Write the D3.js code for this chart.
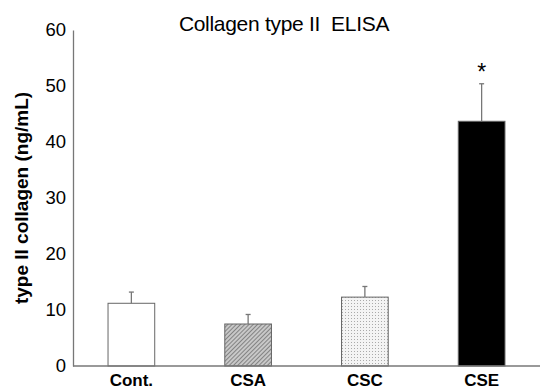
<!DOCTYPE html>
<html><head><meta charset="utf-8">
<script src="https://cdn.jsdelivr.net/npm/d3@7"></script>
<style>body{margin:0;background:#fff}text{font-family:"Liberation Sans",Arial,sans-serif}</style>
</head><body>
<svg id="c" width="540" height="391"></svg>
<script>
const categories = ["Cont.", "CSA", "CSC", "CSE"];
const values = [11.2, 7.5, 12.3, 43.7];
const errors = [2.0, 1.7, 1.9, 6.7];
const fills = ["white", "url(#hatch)", "url(#dots)", "#000"];
const yTicks = [0, 10, 20, 30, 40, 50, 60];
const significance = ["", "", "", "*"];

(function(){
const svg = d3.select("#c");
const defs = svg.append("defs");
const h = defs.append("pattern").attr("id","hatch").attr("patternUnits","userSpaceOnUse")
  .attr("width",3).attr("height",3).attr("patternTransform","rotate(45)");
h.append("rect").attr("width",3).attr("height",3).attr("fill","#c8c8c8");
h.append("line").attr("x1",0).attr("y1",0).attr("x2",0).attr("y2",3).attr("stroke","#555").attr("stroke-width",1.2);
const d = defs.append("pattern").attr("id","dots").attr("patternUnits","userSpaceOnUse")
  .attr("width",3).attr("height",3);
d.append("rect").attr("width",3).attr("height",3).attr("fill","#f4f4f4");
d.append("rect").attr("width",1).attr("height",1).attr("fill","#aaa");

const mL = 73, mR = 540, mT = 30, mB = 366;
const x = d3.scaleBand().domain(categories).range([mL, mR]).paddingInner(0.6).paddingOuter(0.3);
const y = d3.scaleLinear().domain([0, 60]).range([mB, mT]);

const ya = svg.append("g").attr("transform",`translate(${mL},0)`)
  .call(d3.axisLeft(y).tickValues(yTicks).tickSize(0).tickPadding(7));
ya.select(".domain").attr("stroke","#777").attr("stroke-width",1.3);
ya.selectAll("text").attr("font-size",18.5).attr("fill","#000").attr("font-family","Liberation Sans, Arial");

svg.append("g").selectAll("rect").data(categories).join("rect")
  .attr("x", c => x(c)).attr("width", x.bandwidth())
  .attr("y", (c,i) => y(values[i])).attr("height", (c,i) => y(0) - y(values[i]))
  .attr("fill", (c,i) => fills[i]).attr("stroke","#666").attr("stroke-width",1);

const eb = svg.append("g").attr("stroke","#777").attr("stroke-width",1.3);
categories.forEach((c,i) => {
  const cx = x(c) + x.bandwidth()/2;
  eb.append("line").attr("x1",cx).attr("x2",cx).attr("y1",y(values[i])).attr("y2",y(values[i]+errors[i]));
  eb.append("line").attr("x1",cx-2.5).attr("x2",cx+2.5).attr("y1",y(values[i]+errors[i])).attr("y2",y(values[i]+errors[i]));
  if (significance[i]) svg.append("text").attr("x",cx).attr("y",y(values[i]+errors[i]) - 4)
    .attr("text-anchor","middle").attr("font-size",23).text(significance[i]);
});

const xa = svg.append("g").attr("transform",`translate(0,${mB})`)
  .call(d3.axisBottom(x).tickSize(0).tickPadding(8));
xa.select(".domain").attr("stroke","#777").attr("stroke-width",1.3).attr("d",`M${mL},0H${mR}`);
xa.selectAll("text").attr("font-size",17).attr("font-weight","bold").attr("fill","#000").attr("font-family","Liberation Sans, Arial");

svg.append("text").attr("x",284).attr("y",31).attr("text-anchor","middle").attr("font-size",21)
  .attr("letter-spacing",-0.3).style("white-space","pre").text("Collagen type II  ELISA");
svg.append("text").attr("transform","translate(28,198) rotate(-90)").attr("text-anchor","middle")
  .attr("font-size",19).attr("font-weight","bold").text("type II collagen (ng/mL)");
})();
</script>
</body></html>
